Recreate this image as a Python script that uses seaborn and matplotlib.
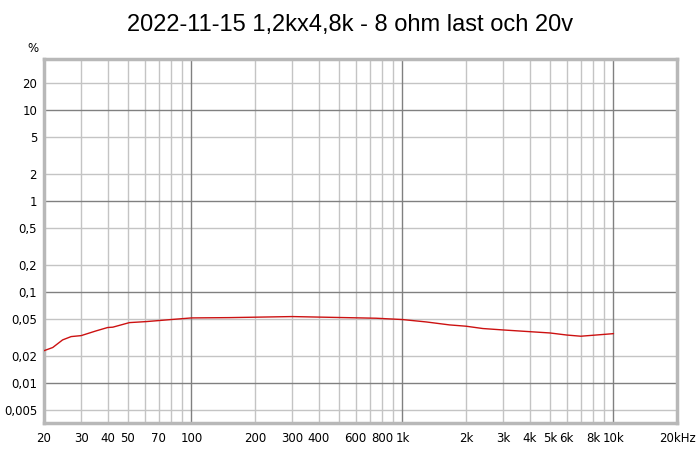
import matplotlib
matplotlib.use("Agg")
import matplotlib.pyplot as plt
import seaborn as sns
import pandas as pd
import numpy as np

freq_hz = [20, 22, 24.5, 26.9, 30, 35.3, 40, 42.4, 50.8, 61, 80, 100, 151, 300, 750,
           1000, 1295, 1671, 2000, 2404, 3000, 4000, 5000, 6000, 7000, 8000, 10000]
thd_pct = [0.0226, 0.0245, 0.0297, 0.0323, 0.0331, 0.0373, 0.0406, 0.0410, 0.0460, 0.0472, 0.0497,
           0.0518, 0.0522, 0.0536, 0.0514, 0.0497, 0.0468, 0.0434, 0.0420, 0.0396, 0.0382,
           0.0366, 0.0354, 0.0336, 0.0326, 0.0334, 0.0348]

x_ticks = [20, 30, 40, 50, 70, 100, 200, 300, 400, 600, 800, 1000, 2000, 3000, 4000,
           5000, 6000, 8000, 10000, 20000]
x_labels = ["20", "30", "40", "50", "70", "100", "200", "300", "400", "600", "800", "1k",
            "2k", "3k", "4k", "5k", "6k", "8k", "10k", "20kHz"]
y_ticks = [20, 10, 5, 2, 1, 0.5, 0.2, 0.1, 0.05, 0.02, 0.01, 0.005]
y_labels = ["20", "10", "5", "2", "1", "0,5", "0,2", "0,1", "0,05", "0,02", "0,01", "0,005"]
title = "2022-11-15 1,2kx4,8k - 8 ohm last och 20v"

sns.set_style("white")
plt.rcParams['font.family'] = ['DejaVu Sans']
plt.rcParams['text.color'] = 'black'

fig = plt.figure(figsize=(7.0, 4.49), dpi=100)
ax = fig.add_axes([44/700, (449-423.3)/449, 633/700, (423.3-59.3)/449])

df = pd.DataFrame({"freq": freq_hz, "thd": thd_pct})

ax.set_xscale("log")
ax.set_yscale("log")
ax.set_xlim(20, 20000)
ax.set_ylim(0.0036, 36)

# grid lines
major_x = [100, 1000, 10000]
minor_x = []
for dec in [10, 100, 1000, 10000]:
    for m in range(2, 10):
        v = dec * m
        if 20 < v < 20000:
            minor_x.append(v)
for v in minor_x:
    ax.axvline(v, color="#c4c4c4", lw=1.0, zorder=0)
for v in major_x:
    ax.axvline(v, color="#808080", lw=1.0, zorder=0.5)
for v in y_ticks:
    if v in (10, 1, 0.1, 0.01):
        ax.axhline(v, color="#808080", lw=1.0, zorder=0.5)
    else:
        ax.axhline(v, color="#c4c4c4", lw=1.0, zorder=0)

sns.lineplot(data=df, x="freq", y="thd", ax=ax, color="#cc1111", lw=1.0, zorder=3)

ax.set_xticks(x_ticks)
ax.set_xticklabels(x_labels)
ax.set_yticks(y_ticks)
ax.set_yticklabels(y_labels)
ax.minorticks_off()
ax.tick_params(axis="both", length=0, labelsize=8.5, colors="#000000")
ax.tick_params(axis="x", pad=6)
ax.tick_params(axis="y", pad=5)
ax.set_xlabel("")
ax.set_ylabel("")

for s in ax.spines.values():
    s.set_color("#b8b8b8")
    s.set_linewidth(2.5)

fig.text(33/700, 1 - 48/449, "%", ha="center", va="center", fontsize=8.5, color="black")
fig.text(0.5, 1 - 25/449, title, ha="center", va="center", fontsize=17, color="black",
         family=["Liberation Sans", "DejaVu Sans"])

fig.savefig("out.png", dpi=100)
